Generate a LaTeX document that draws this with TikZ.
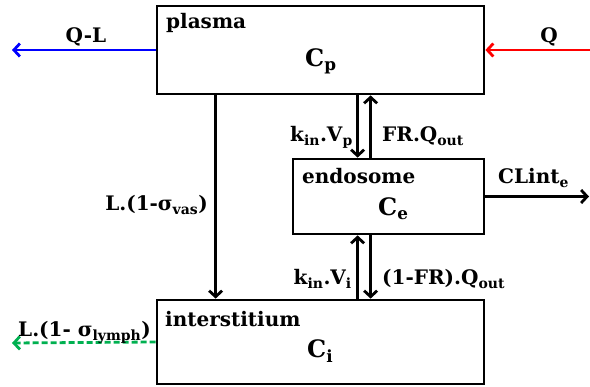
\documentclass[tikz,border=0pt]{standalone}
\usepackage{fontspec}
\setmainfont{DejaVu Serif}
\usetikzlibrary{arrows.meta}
\definecolor{qlblue}{RGB}{0,0,255}
\definecolor{qred}{RGB}{255,0,0}
\definecolor{lymgreen}{RGB}{0,176,80}
\newcommand{\sbs}[1]{\textsubscript{#1}}
\begin{document}
\begin{tikzpicture}[x=1pt,y=-1pt,
  box/.style={draw=black,line width=2.8pt,inner sep=0pt},
  lbl/.style={inner sep=0pt,font=\fontsize{20}{24}\selectfont\bfseries},
  big/.style={inner sep=0pt,font=\fontsize{24}{28}\selectfont\bfseries},
  flow/.style={line width=2.8pt,-{Straight Barb[length=6pt,width=13pt,line width=2.8pt]}}]
\useasboundingbox (0,0) rectangle (590,387);
% boxes
\node[box,minimum width=327pt,minimum height=88pt] (plasma) at (320.5,50) {};
\node[box,minimum width=191pt,minimum height=75pt] (endo) at (388.5,196.5) {};
\node[box,minimum width=327pt,minimum height=84pt] (inter) at (320.5,342) {};
% box names
\node[lbl,anchor=base west] (pname) at (166,29) {plasma};
\node[big,anchor=base west] (cp) at (305,67) {C\sbs{p}};
\node[lbl,anchor=base west] (ename) at (302,184) {endosome};
\node[big,anchor=base west] (ce) at (378,216) {C\sbs{e}};
\node[lbl,anchor=base west] (iname) at (165,327) {interstitium};
\node[big,anchor=base west] (ci) at (307,358) {C\sbs{i}};
% free ends
\coordinate (qlend) at (12,50);
\coordinate (qstart) at (590,50);
\coordinate (clend) at (589,196.5);
\coordinate (lyend) at (12,343);
% connectors
\draw[flow,qlblue] (plasma.west) -- (qlend);
\draw[flow,qred] (qstart) -- (plasma.east);
\draw[flow] (endo.east) -- (clend);
\draw[flow,lymgreen,dash pattern=on 6pt off 3pt] (inter.west) -- (lyend);
\draw[flow] ([xshift=60pt]plasma.south west) -- ([xshift=60pt]inter.north west);
\draw[flow] ([xshift=66pt]endo.north west |- plasma.south) -- ([xshift=66pt]endo.north west);
\draw[flow] ([xshift=79pt]endo.north west) -- ([xshift=79pt]endo.north west |- plasma.south);
\draw[flow] ([xshift=66pt]endo.south west |- inter.north) -- ([xshift=66pt]endo.south west);
\draw[flow] ([xshift=79pt]endo.south west) -- ([xshift=79pt]endo.south west |- inter.north);
% flow labels
\node[lbl,anchor=base] (lql) at (86,43) {Q-L};
\node[lbl,anchor=base] (lq) at (549,43) {Q};
\node[lbl,anchor=base east] (lvas) at (208,211) {L.(1-σ\sbs{vas})};
\node[lbl,anchor=base east] (lkvp) at (353,142) {k\sbs{in}.V\sbs{p}};
\node[lbl,anchor=base west] (lfr) at (382,142) {FR.Q\sbs{out}};
\node[lbl,anchor=base west] (lcl) at (498,184) {CLint\sbs{e}};
\node[lbl,anchor=base east] (lkvi) at (352,285) {k\sbs{in}.V\sbs{i}};
\node[lbl,anchor=base west] (l1fr) at (382,285) {(1-FR).Q\sbs{out}};
\node[lbl,anchor=base west] (lly) at (18,337) {L.(1- σ\sbs{lymph})};
\end{tikzpicture}
\end{document}
